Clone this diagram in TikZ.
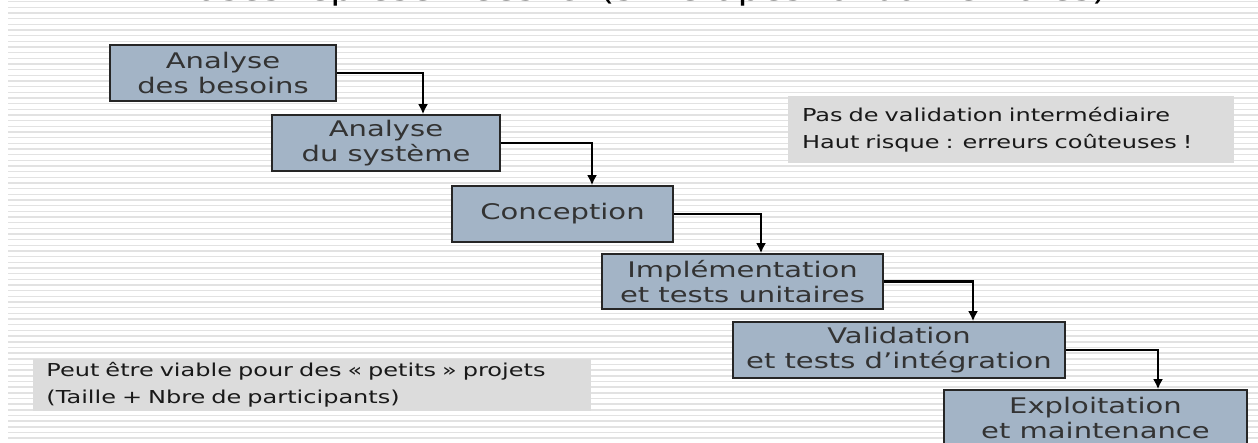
\documentclass[tikz,border=0pt]{standalone}
\usepackage{fontspec}
\setmainfont{DejaVu Sans}[FakeStretch=1.35]
\usetikzlibrary{arrows.meta}
\definecolor{phaseblue}{HTML}{A3B4C6}
\definecolor{notegrey}{HTML}{DCDCDC}
\definecolor{stripegrey}{HTML}{E2E2E2}

\begin{document}
\begin{tikzpicture}[x=0.5pt,y=-0.5pt,
    phase/.style={draw=black!85,line width=0.8pt,fill=phaseblue,text=black!80,
      align=center,inner sep=0pt,font=\fontsize{10.75}{12.5}\selectfont},
    note/.style={fill=notegrey,align=left,inner xsep=7pt,inner ysep=0pt,
      text=black!90,font=\fontsize{8.9}{13.5}\selectfont},
    flow/.style={-{Latex[length=5pt,width=5pt]},line width=1.1pt}]
  \useasboundingbox (0,0) rectangle (1258,443);
  \clip (0,0) rectangle (1258,443);
  \fill[white] (0,0) rectangle (1258,443);
  % striped background
  \foreach \y in {1.6,7.27,...,443}
    \draw[stripegrey,line width=0.7pt] (8,\y) -- (1258,\y);
  \begin{scope}[y=0.5pt]
    \node[anchor=base,inner sep=0pt,font=\fontsize{13.7}{16}\selectfont] (title) at (629,-1)
      {Phases représentées ici (six étapes fondamentales)};
  \end{scope}
  % the six phases
  \path (223,73) node[phase,minimum width=113pt,minimum height=28pt] (besoins) {Analyse\\des besoins}
    (386,143) node[phase,minimum width=114pt,minimum height=28pt] (systeme) {Analyse\\du système}
    (562.5,214) node[phase,minimum width=110.5pt,minimum height=28pt] (conception) {Conception}
    (742.5,281.5) node[phase,minimum width=140.5pt,minimum height=27.5pt] (implem) {Implémentation\\et tests unitaires}
    (899,350) node[phase,minimum width=166pt,minimum height=28pt] (valid) {Validation\\et tests d’intégration}
    (1095.5,418) node[phase,minimum width=151.5pt,minimum height=28pt] (exploit) {Exploitation\\et maintenance};
  \draw[flow] (besoins.east) -| ([xshift=18.5pt]systeme.north);
  \draw[flow] (systeme.east) -| ([xshift=14.75pt]conception.north);
  \draw[flow] (conception.east) -| ([xshift=9.25pt]implem.north);
  \draw[flow] (implem.east) -| ([xshift=37pt]valid.north);
  \draw[flow] (valid.east) -| ([xshift=31.25pt]exploit.north);
  % remarks
  \node[note,text width=209pt,minimum height=33.5pt] (risque) at (1011,129.5)
    {Pas de validation intermédiaire\\Haut risque : erreurs coûteuses !};
  \node[note,text width=265pt,minimum height=26pt] (viable) at (311.5,385)
    {Peut être viable pour des « petits » projets\\(Taille + Nbre de participants)};
\end{tikzpicture}
\end{document}
